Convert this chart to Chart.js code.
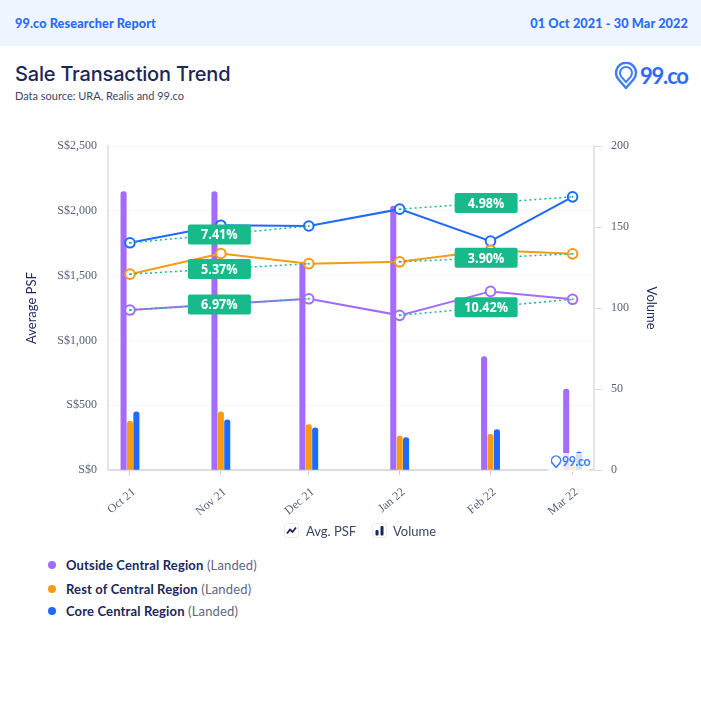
<!DOCTYPE html>
<html>
<head>
<meta charset="utf-8">
<script src="https://cdn.jsdelivr.net/npm/chart.js@4/dist/chart.umd.min.js"></script>
<style>
html,body{margin:0;padding:0;background:#fff;width:701px;height:719px;overflow:hidden;font-family:Lato,"Open Sans",sans-serif;color:#1c2659}
#page{position:relative;width:701px;height:719px}
#page>div,#page>canvas,#page>svg{position:absolute}
#band{left:0;top:0;width:701px;height:46px;background:#eef5ff}
.hd{top:14px;font-size:12.7px;font-weight:900;color:#2a6cf6;line-height:18px;letter-spacing:.1px}
#title{left:15px;top:60px;font-family:Inter,Lato,sans-serif;font-size:20px;line-height:28px;font-weight:500;color:#1c2659;letter-spacing:-.2px}
#sub{left:15px;top:89px;font-size:11px;line-height:14px;color:#3d4568}
#logotext{left:640px;top:62px;font-size:22px;line-height:28px;font-weight:700;color:#2a6cf6;letter-spacing:-1.2px}
#mark{left:548px;top:453px;width:41px;height:19px;background:rgba(255,255,255,.8)}
#marktext{left:562px;top:454px;font-size:12.5px;line-height:16px;font-weight:700;color:#3f7df5;letter-spacing:-.5px}
.lg{top:523px;font-size:13px;line-height:16px;color:#3d4568}
.key{left:66px;font-size:13px;line-height:16px;color:#5f6680;white-space:nowrap;letter-spacing:.15px}
.key b{color:#1c2659;font-weight:700}
.dot{left:48px;width:8px;height:8px;border-radius:50%}
</style>
</head>
<body>
<div id="page">
  <div id="band"></div>
  <div class="hd" style="left:15px">99.co Researcher Report</div>
  <div class="hd" style="right:13px">01 Oct 2021 - 30 Mar 2022</div>
  <div id="title">Sale Transaction Trend</div>
  <div id="sub">Data source: URA, Realis and 99.co</div>
  <svg style="left:615px;top:62px" width="24" height="28" viewBox="0 0 24 28"><path d="M11 26 L3.6 17.5 A10 10 0 1 1 18.4 17.5 Z" fill="none" stroke="#3f7df5" stroke-width="2.4" stroke-linejoin="round"/><path d="M11 20 L6.4 14.8 A6 6 0 1 1 15.6 14.8 Z" fill="none" stroke="#3f7df5" stroke-width="2"/></svg>
  <div id="logotext">99.co</div>
  <canvas id="c" width="701" height="403" style="left:0;top:128px;width:701px;height:403px"></canvas>
  <div id="mark"></div>
  <svg style="left:551px;top:455px" width="11" height="14" viewBox="0 0 24 28"><path d="M11 26 L3.6 17.5 A10 10 0 1 1 18.4 17.5 Z" fill="none" stroke="#3f7df5" stroke-width="3.4" stroke-linejoin="round"/></svg>
  <div id="marktext">99.co</div>
  <svg style="left:284px;top:523px" width="15" height="15" viewBox="0 0 15 15"><rect x=".5" y=".5" width="14" height="14" rx="2" fill="#fff" stroke="#e6e8ee"/><path d="M3 10.5 L6 6.5 L8.5 9 L12 4.5" fill="none" stroke="#1c2659" stroke-width="1.8"/></svg>
  <div class="lg" style="left:306px">Avg. PSF</div>
  <svg style="left:372px;top:523px" width="15" height="15" viewBox="0 0 15 15"><rect x=".5" y=".5" width="14" height="14" rx="2" fill="#fff" stroke="#e6e8ee"/><rect x="3.5" y="7" width="3" height="5.5" rx="1" fill="#1c2659"/><rect x="8.5" y="3" width="3" height="9.5" rx="1" fill="#1c2659"/></svg>
  <div class="lg" style="left:393px">Volume</div>
  <div class="dot" style="top:561px;background:#a36cfb"></div>
  <div class="key" style="top:557px"><b>Outside Central Region</b> (Landed)</div>
  <div class="dot" style="top:585px;background:#f79a14"></div>
  <div class="key" style="top:581px"><b>Rest of Central Region</b> (Landed)</div>
  <div class="dot" style="top:607px;background:#2069ff"></div>
  <div class="key" style="top:603px"><b>Core Central Region</b> (Landed)</div>
</div>
<script>
const months = ['Oct 21','Nov 21','Dec 21','Jan 22','Feb 22','Mar 22'];
const monthDates = ['2021-10-01','2021-11-01','2021-12-01','2022-01-01','2022-02-01','2022-03-01'];
const seriesNames = ['Outside Central Region','Rest of Central Region','Core Central Region'];
const psfOutside = [1235,1280,1322,1194,1379,1318];
const psfRest = [1512,1672,1593,1607,1697,1669];
const psfCore = [1754,1890,1884,2014,1767,2109];
const volOutside = [172,172,128,163,70,50];
const volRest = [30,36,28,21,22,4];
const volCore = [36,31,26,20,25,11];
const trendSpans = [[0,2],[3,5]];
const trendOutside = ['6.97%','10.42%'];
const trendRest = ['5.37%','3.90%'];
const trendCore = ['7.41%','4.98%'];
const leftTicks = [0,500,1000,1500,2000,2500];
const rightTicks = [0,50,100,150,200];

const PURPLE='#a36cfb', ORANGE='#f79a14', BLUE='#2069ff', GREEN='#18b98a';
const TICK='#5a607c';
const day0 = Date.parse(monthDates[0]);
const days = monthDates.map(d => Math.round((Date.parse(d)-day0)/864e5));
const pts = arr => arr.map((v,i)=>({x:days[i],y:v}));

const lineSets = [[psfOutside,PURPLE,seriesNames[0]],[psfRest,ORANGE,seriesNames[1]],[psfCore,BLUE,seriesNames[2]]];
const barSets = [[volOutside,PURPLE,seriesNames[0]],[volRest,ORANGE,seriesNames[1]],[volCore,BLUE,seriesNames[2]]];
const trendSets = [[psfOutside,trendOutside],[psfRest,trendRest],[psfCore,trendCore]];

const datasets = [];
trendSets.forEach(([vals])=>trendSpans.forEach(([a,b])=>datasets.push({
  type:'line',yAxisID:'y',order:1,
  data:[{x:days[a],y:vals[a]},{x:days[b],y:vals[b]}],
  borderColor:GREEN,backgroundColor:GREEN,borderWidth:1.5,borderDash:[2,3],
  pointRadius:1,pointBorderWidth:0,pointHoverRadius:1,tension:0
})));
lineSets.forEach(([vals,col,name])=>datasets.push({
  type:'line',label:name,yAxisID:'y',order:2,data:pts(vals),
  borderColor:col,borderWidth:2,pointRadius:4.8,pointBorderWidth:2,
  pointBackgroundColor:'#fff',pointBorderColor:col,tension:0
}));
barSets.forEach(([vals,col,name])=>datasets.push({
  type:'bar',label:name,yAxisID:'y1',order:3,data:pts(vals),
  backgroundColor:col,barThickness:6.4,maxBarThickness:5.4,
  borderRadius:{topLeft:3,topRight:3},borderSkipped:'bottom'
}));

const trendBadges = {
  id:'trendBadges',
  afterDatasetsDraw(chart){
    const {ctx,scales:{x,y}} = chart;
    ctx.save();
    trendSets.forEach(([vals,labels])=>trendSpans.forEach(([a,b],k)=>{
      const cx=(x.getPixelForValue(days[a])+x.getPixelForValue(days[b]))/2;
      const cy=(y.getPixelForValue(vals[a])+y.getPixelForValue(vals[b]))/2;
      ctx.fillStyle=GREEN;
      ctx.beginPath();ctx.roundRect(cx-31.5,cy-10,63,20,2);ctx.fill();
      ctx.save();
      ctx.translate(cx,cy+.5);ctx.scale(.84,1);
      ctx.fillStyle='#fff';ctx.font='700 15px "Open Sans",sans-serif';
      ctx.textAlign='center';ctx.textBaseline='middle';
      ctx.fillText(labels[k],0,0);
      ctx.restore();
    }));
    ctx.restore();
  }
};

new Chart(document.getElementById('c'),{
  type:'bar',
  data:{datasets},
  plugins:[trendBadges],
  options:{
    responsive:false,animation:false,
    layout:{padding:{top:13,left:0,right:0,bottom:0}},
    plugins:{legend:{display:false},tooltip:{enabled:false}},
    scales:{
      x:{
        type:'linear',min:-7.5,max:158.3,offset:false,
        afterBuildTicks(s){s.ticks=days.map(v=>({value:v}));},
        afterFit(s){s.height=61;},
        grid:{display:true,offset:false,drawOnChartArea:false,tickLength:5,color:'#c9ccd4'},
        border:{color:'#dcdde2',width:2},
        ticks:{autoSkip:false,minRotation:40,maxRotation:40,padding:10,labelOffset:4,color:TICK,
          font:{family:'"Liberation Serif",serif',size:12},
          callback:(v,i)=>months[i]}
      },
      y:{
        position:'left',min:0,max:2500,
        afterBuildTicks(s){s.ticks=leftTicks.map(v=>({value:v}));},
        afterFit(s){s.width=108;},
        grid:{color:'#f7f7f8',drawTicks:false},
        border:{color:'#e4e5e9',width:2},
        ticks:{padding:11,color:TICK,font:{family:'"Liberation Serif",serif',size:12},
          callback:v=>'S$'+v.toLocaleString('en-US')},
        title:{display:true,text:'Average PSF',color:'#1c2659',
          font:{family:'Lato',size:13},padding:{top:24,bottom:0}}
      },
      y1:{
        position:'right',min:0,max:200,
        afterBuildTicks(s){s.ticks=rightTicks.map(v=>({value:v}));},
        afterFit(s){s.width=107;},
        grid:{drawOnChartArea:false,tickLength:8,color:'#dcdde2'},
        border:{color:'#e4e5e9',width:2},
        ticks:{padding:9,color:TICK,font:{family:'"Liberation Serif",serif',size:12}},
        title:{display:true,text:'Volume',color:'#1c2659',
          font:{family:'Lato',size:13},padding:{top:42,bottom:0}}
      }
    }
  }
});
</script>
</body>
</html>
